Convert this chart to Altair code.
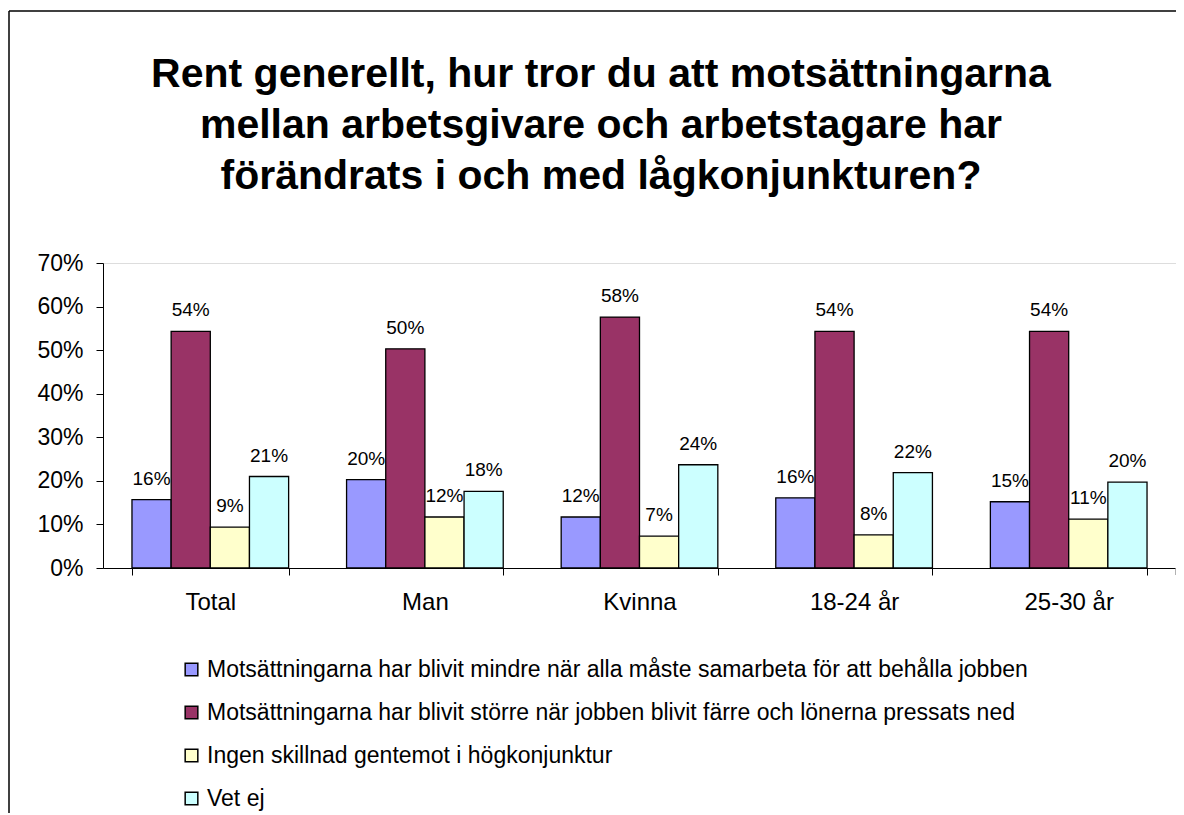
import altair as alt
import pandas as pd

categories = ["Total", "Man", "Kvinna", "18-24 år", "25-30 år"]
series = [
    "Motsättningarna har blivit mindre när alla måste samarbeta för att behålla jobben",
    "Motsättningarna har blivit större när jobben blivit färre och lönerna pressats ned",
    "Ingen skillnad gentemot i högkonjunktur",
    "Vet ej",
]
mindre = [0.157, 0.203, 0.117, 0.161, 0.152]
storre = [0.543, 0.503, 0.576, 0.543, 0.543]
ingen = [0.094, 0.117, 0.073, 0.076, 0.112]
vet_ej = [0.210, 0.176, 0.237, 0.219, 0.197]
colors = ["#9999FF", "#993366", "#FFFFCC", "#CCFFFF"]
y_ticks = [0.0, 0.1, 0.2, 0.3, 0.4, 0.5, 0.6, 0.7]
title_lines = [
    "Rent generellt, hur tror du att motsättningarna",
    "mellan arbetsgivare och arbetstagare har",
    "förändrats i och med lågkonjunkturen?",
]

rows = []
for s, vals in zip(series, [mindre, storre, ingen, vet_ej]):
    for c, v in zip(categories, vals):
        rows.append({"Kategori": c, "Svar": s, "Andel": v})
df = pd.DataFrame(rows)

W, H = 1073, 305
FONT = "Liberation Sans"

base = alt.Chart(df).encode(
    x=alt.X(
        "Kategori:N",
        sort=categories,
        scale=alt.Scale(paddingInner=0.27, paddingOuter=0.135),
        axis=alt.Axis(
            title=None, labelAngle=0, labelFontSize=24, labelFont=FONT,
            labelColor="black", domainColor="black", tickColor="black",
            tickSize=7, tickBand="extent", labelPadding=15, domainWidth=1,
        ),
    ),
    xOffset=alt.XOffset("Svar:N", sort=series,
                        scale=alt.Scale(paddingInner=0, paddingOuter=0)),
)

bars = base.mark_bar(stroke="black", strokeWidth=1.3).encode(
    y=alt.Y(
        "Andel:Q",
        scale=alt.Scale(domain=[0, 0.7], nice=False),
        axis=alt.Axis(
            title=None, format=".0%", values=y_ticks, grid=False,
            labelFontSize=23, labelFont=FONT, labelColor="black",
            domainColor="black", tickColor="black", tickSize=7,
            labelPadding=13,
        ),
    ),
    color=alt.Color(
        "Svar:N",
        sort=series,
        scale=alt.Scale(domain=series, range=colors),
        legend=alt.Legend(
            title=None, orient="none", legendX=77, legendY=395,
            symbolType="square", symbolSize=160, symbolStrokeColor="black",
            symbolStrokeWidth=1.5, symbolOpacity=1,
            labelFontSize=23, labelFont=FONT, labelColor="black",
            rowPadding=19, labelOffset=4, padding=0, labelLimit=0,
        ),
    ),
)

labels = base.mark_text(
    baseline="bottom", dy=-11, fontSize=19, font=FONT, color="black"
).encode(
    y=alt.Y("Andel:Q"),
    text=alt.Text("Andel:Q", format=".0%"),
)

one = alt.Data(values=[{}])
title = alt.Chart(one).mark_text(
    text=title_lines, fontSize=41, font=FONT, fontWeight="bold",
    lineHeight=51, align="center", baseline="middle", color="black",
).encode(x=alt.value(498), y=alt.value(-188))

border_left = alt.Chart(one).mark_rule(color="black", strokeWidth=1.5).encode(
    x=alt.value(-94), y=alt.value(-252), y2=alt.value(580)
)
border_top = alt.Chart(one).mark_rule(color="black", strokeWidth=1.5).encode(
    x=alt.value(-94), x2=alt.value(W + 20), y=alt.value(-252)
)
right_tick = alt.Chart(one).mark_rule(color="#999999", strokeWidth=1.5).encode(
    x=alt.value(W), y=alt.value(H), y2=alt.value(H + 7)
)

chart = (
    alt.layer(bars, labels, title, border_left, border_top, right_tick)
    .properties(
        width=W,
        height=H,
        padding={"left": 95, "top": 255, "right": 0, "bottom": 245},
        autosize=alt.AutoSizeParams(type="none"),
    )
    .configure_view(stroke="#999999", strokeWidth=1.5)
    .configure(background="white")
)

chart.save("out.html", embed_options={"renderer": "svg", "actions": False})
